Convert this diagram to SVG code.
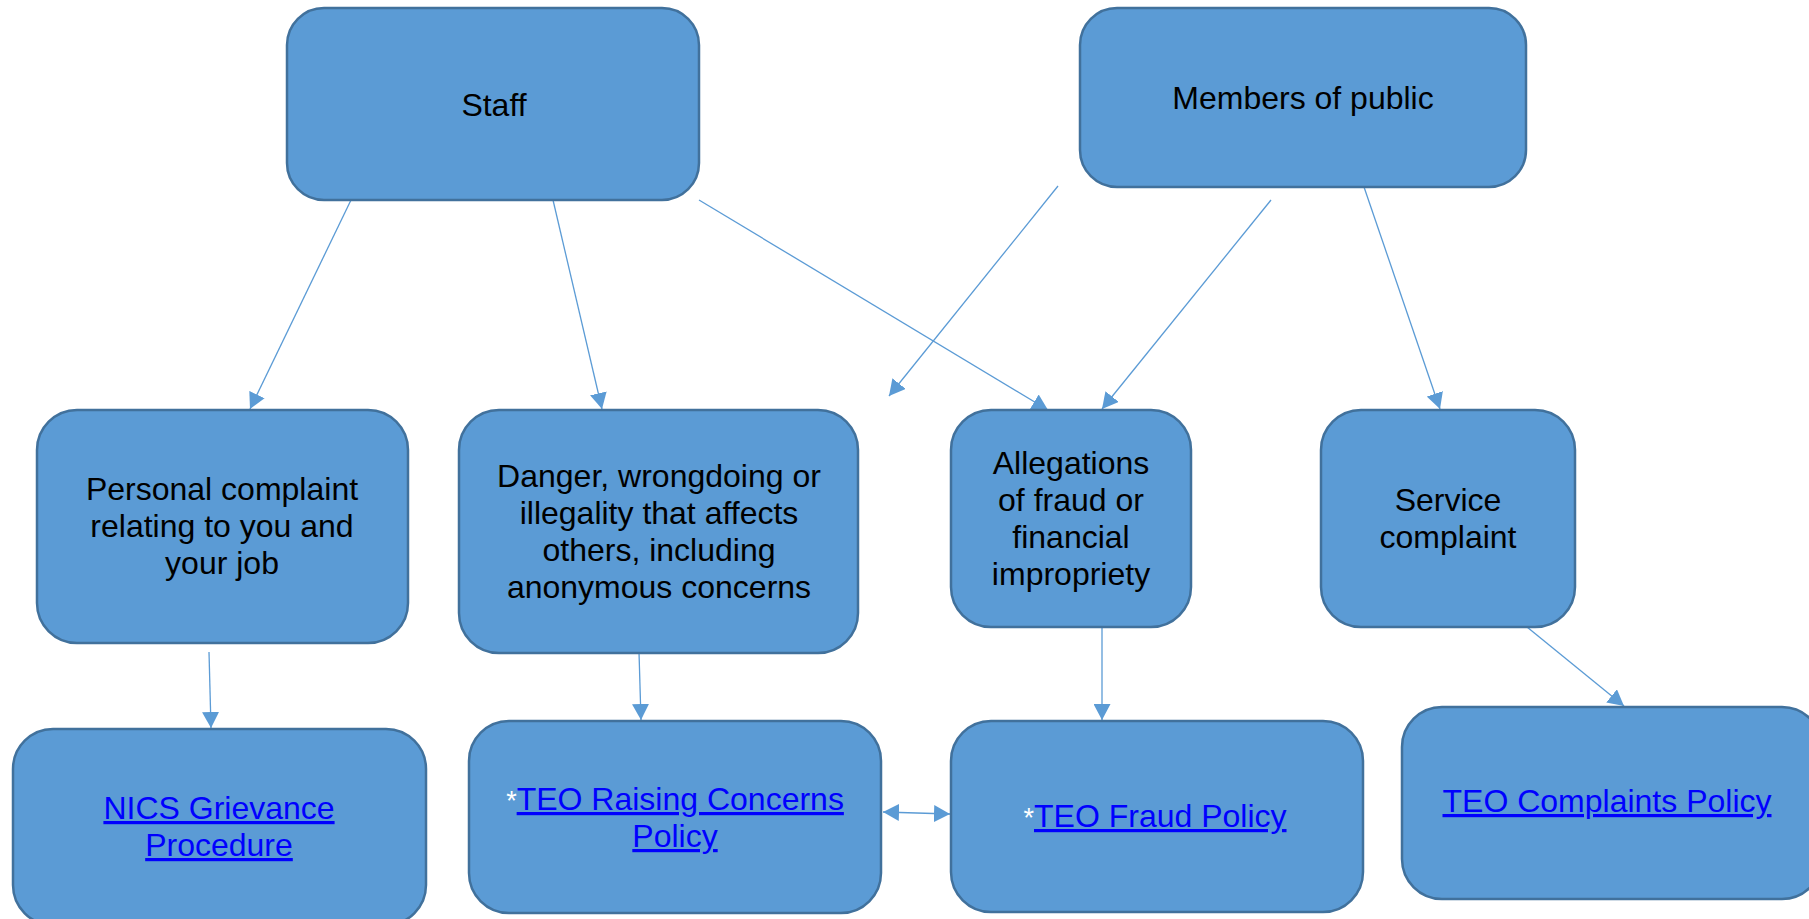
<svg xmlns="http://www.w3.org/2000/svg" width="1809" height="919" viewBox="0 0 1809 919">
<style>
.box{fill:#5B9BD5;stroke:#41719C;stroke-width:2.5}
.lbl{font-family:"Liberation Sans",Arial,sans-serif;font-size:32px;fill:#000;text-anchor:middle}
.link{fill:#0000FF;text-decoration:underline}
.ast{fill:#FFFFFF}
.con{stroke:#5B9BD5;stroke-width:1.3;fill:none}
</style>
<defs>
<marker id="ah" viewBox="0 0 16 17" refX="16" refY="8.5" markerWidth="16" markerHeight="17" markerUnits="userSpaceOnUse" orient="auto-start-reverse">
<path d="M0,0 L16,8.5 L0,17 z" fill="#5B9BD5"/>
</marker>
</defs>
<rect width="1809" height="919" fill="#FFFFFF"/>
<g id="connectors">
<line class="con" x1="351" y1="200" x2="250" y2="409" marker-end="url(#ah)"/>
<line class="con" x1="553" y1="200" x2="602" y2="409" marker-end="url(#ah)"/>
<line class="con" x1="699" y1="200" x2="1048" y2="410" marker-end="url(#ah)"/>
<line class="con" x1="1058" y1="186" x2="889" y2="396" marker-end="url(#ah)"/>
<line class="con" x1="1271" y1="200" x2="1102" y2="409" marker-end="url(#ah)"/>
<line class="con" x1="1364" y1="187" x2="1440" y2="409" marker-end="url(#ah)"/>
<line class="con" x1="209" y1="652" x2="211" y2="728" marker-end="url(#ah)"/>
<line class="con" x1="639" y1="652" x2="641" y2="720" marker-end="url(#ah)"/>
<line class="con" x1="1102" y1="627" x2="1102" y2="720" marker-end="url(#ah)"/>
<line class="con" x1="1527" y1="627" x2="1624" y2="706" marker-end="url(#ah)"/>
<line class="con" x1="883" y1="812" x2="950" y2="814" marker-start="url(#ah)" marker-end="url(#ah)"/>
</g>
<g id="staff">
<rect class="box" x="287" y="8" width="412" height="192" rx="37"/>
<text class="lbl" x="494" y="116">Staff</text>
</g>
<g id="public">
<rect class="box" x="1080" y="8" width="446" height="179" rx="37"/>
<text class="lbl" x="1303" y="109">Members of public</text>
</g>
<g id="personal">
<rect class="box" x="37" y="410" width="371" height="233" rx="40"/>
<text class="lbl" x="222" y="500">Personal complaint</text>
<text class="lbl" x="222" y="537">relating to you and</text>
<text class="lbl" x="222" y="574">your job</text>
</g>
<g id="danger">
<rect class="box" x="459" y="410" width="399" height="243" rx="40"/>
<text class="lbl" x="659" y="487">Danger, wrongdoing or</text>
<text class="lbl" x="659" y="524">illegality that affects</text>
<text class="lbl" x="659" y="561">others, including</text>
<text class="lbl" x="659" y="598">anonymous concerns</text>
</g>
<g id="allegations">
<rect class="box" x="951" y="410" width="240" height="217" rx="40"/>
<text class="lbl" x="1071" y="474">Allegations</text>
<text class="lbl" x="1071" y="511">of fraud or</text>
<text class="lbl" x="1071" y="548">financial</text>
<text class="lbl" x="1071" y="585">impropriety</text>
</g>
<g id="service">
<rect class="box" x="1321" y="410" width="254" height="217" rx="40"/>
<text class="lbl" x="1448" y="511">Service</text>
<text class="lbl" x="1448" y="548">complaint</text>
</g>
<g id="nics">
<rect class="box" x="13" y="729" width="413" height="196" rx="40"/>
<text class="lbl" x="219" y="819"><tspan class="link">NICS Grievance</tspan></text>
<text class="lbl" x="219" y="856"><tspan class="link">Procedure</tspan></text>
</g>
<g id="raising">
<rect class="box" x="469" y="721" width="412" height="192" rx="40"/>
<text class="lbl" x="675" y="810"><tspan class="ast" font-size="27">*</tspan><tspan class="link">TEO Raising Concerns</tspan></text>
<text class="lbl" x="675" y="847"><tspan class="link">Policy</tspan></text>
</g>
<g id="fraud">
<rect class="box" x="951" y="721" width="412" height="191" rx="40"/>
<text class="lbl" x="1155" y="827"><tspan class="ast" font-size="27">*</tspan><tspan class="link">TEO Fraud Policy</tspan></text>
</g>
<g id="complaints">
<rect class="box" x="1402" y="707" width="420" height="192" rx="40"/>
<text class="lbl" x="1607" y="812"><tspan class="link">TEO Complaints Policy</tspan></text>
</g>
</svg>
